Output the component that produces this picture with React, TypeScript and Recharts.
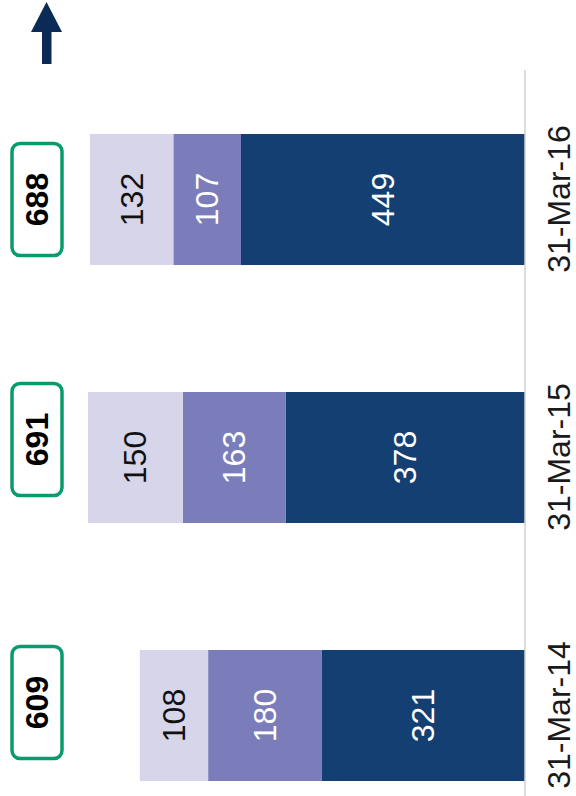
import React from "react";
import { BarChart, Bar, XAxis, YAxis, LabelList } from "recharts";

// categories, bottom to top in the picture
const dates = ["31-Mar-14", "31-Mar-15", "31-Mar-16"];
// segment values (dark, mid, light)
const baseValues = [321, 378, 449];
const midValues = [180, 163, 107];
const topValues = [108, 150, 132];
// totals shown in the green boxes
const totals = [609, 691, 688];

const data = dates.map((date, i) => ({
  date,
  base: baseValues[i],
  mid: midValues[i],
  top: topValues[i],
  total: totals[i],
}));

const FONT = "'Liberation Sans', Arial, sans-serif";
// small nudges of the total boxes along the category axis, as in the original slide
const BOX_NUDGE = [-13, -18, 0];

const segmentLabel = (color: string) => (props: any) => {
  const { x, y, width, height, value } = props;
  const cx = x + width / 2;
  const cy = y + height / 2;
  return (
    <text
      x={cx}
      y={cy}
      transform={`rotate(-90, ${cx}, ${cy})`}
      textAnchor="middle"
      dominantBaseline="central"
      fontFamily={FONT}
      fontSize={32}
      fill={color}
    >
      {value}
    </text>
  );
};

const TotalBox = (props: any) => {
  const { y, height, value, index } = props;
  const cx = 37;
  const cy = y + height / 2 + (BOX_NUDGE[index] || 0);
  return (
    <g>
      <rect x={cx - 25} y={cy - 56} width={50} height={112} rx={8} ry={8} fill="#fff" stroke="#0a9a6e" strokeWidth={3.5} />
      <text
        x={cx}
        y={cy}
        transform={`rotate(-90, ${cx}, ${cy})`}
        textAnchor="middle"
        dominantBaseline="central"
        fontFamily={FONT}
        fontWeight="bold"
        fontSize={32}
        fill="#000"
      >
        {value}
      </text>
    </g>
  );
};

const DateTick = (props: any) => {
  const { x, y, payload } = props;
  const tx = x + 37;
  return (
    <text
      x={tx}
      y={y}
      transform={`rotate(-90, ${tx}, ${y})`}
      textAnchor="middle"
      fontFamily={FONT}
      fontSize={32}
      fill="#1a1a1a"
    >
      {payload.value}
    </text>
  );
};

export default function App() {
  return (
    <div style={{ position: "absolute", left: 0, top: 0, width: 576, height: 796, overflow: "hidden", background: "#fff" }}>
      <svg width={80} height={70} style={{ position: "absolute", left: 0, top: 0 }}>
        <polygon points="31,32 46.5,2 62,32" fill="#0b2a55" />
        <rect x={42} y={31} width={9.5} height={33} fill="#0b2a55" />
      </svg>
      <BarChart
        layout="vertical"
        width={576}
        height={844}
        data={data}
        margin={{ top: 70, right: 0, bottom: 0, left: 19 }}
        barSize={131}
      >
        <XAxis type="number" domain={[0, 800]} reversed hide />
        <YAxis
          type="category"
          dataKey="date"
          orientation="right"
          reversed
          width={51}
          axisLine={{ stroke: "#d0d0d0", strokeWidth: 1.5 }}
          tickLine={false}
          tick={<DateTick />}
        />
        <Bar dataKey="base" stackId="a" fill="#143f73" isAnimationActive={false}>
          <LabelList dataKey="base" content={segmentLabel("#fff")} />
        </Bar>
        <Bar dataKey="mid" stackId="a" fill="#7b7dba" isAnimationActive={false}>
          <LabelList dataKey="mid" content={segmentLabel("#fff")} />
        </Bar>
        <Bar dataKey="top" stackId="a" fill="#d6d5ea" isAnimationActive={false}>
          <LabelList dataKey="top" content={segmentLabel("#111")} />
          <LabelList dataKey="total" content={<TotalBox />} />
        </Bar>
      </BarChart>
    </div>
  );
}
